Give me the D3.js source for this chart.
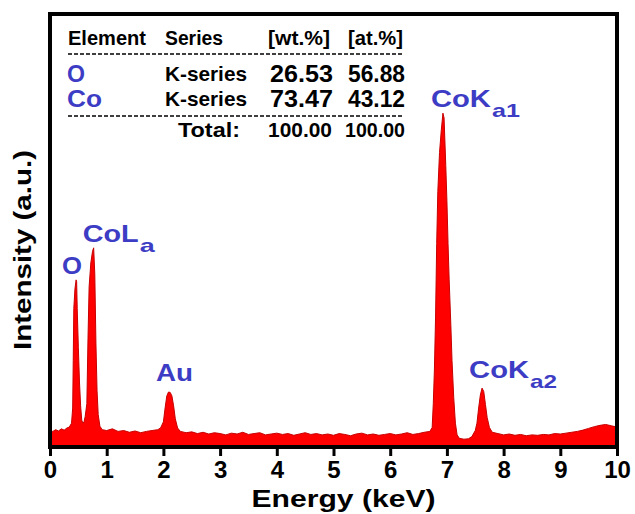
<!DOCTYPE html>
<html><head><meta charset="utf-8">
<script src="https://cdn.jsdelivr.net/npm/d3@7"></script>
<style>
html,body{margin:0;padding:0;background:#fff;}
svg{display:block;}
text{font-family:"Liberation Sans",Arial,sans-serif;font-weight:bold;}
</style></head>
<body>
<svg id="chart" width="635" height="514"></svg>
<script>
// ---- data ----
const energy = [0.00,0.05,0.10,0.15,0.20,0.25,0.30,0.34,0.38,0.40,0.41,0.42,0.44,0.46,0.47,0.48,0.50,0.52,0.54,0.56,0.58,0.60,0.62,0.65,0.67,0.69,0.72,0.75,0.77,0.79,0.81,0.83,0.85,0.88,0.92,1.00,
1.1,1.2,1.3,1.4,1.5,1.6,1.7,1.8,1.9,1.95,2.00,2.03,2.06,2.09,2.12,2.15,2.18,2.21,2.25,2.30,
2.4,2.5,2.6,2.7,2.8,2.9,3.0,3.1,3.2,3.3,3.4,3.5,3.6,3.7,3.8,3.9,4.0,4.1,4.2,4.3,4.4,4.5,4.6,4.7,4.8,4.9,5.0,5.1,5.2,5.3,5.4,5.5,5.6,5.7,5.8,5.9,6.0,6.1,6.2,6.3,6.4,6.5,6.6,
6.70,6.74,6.76,6.78,6.80,6.82,6.84,6.87,6.90,6.93,6.95,6.98,7.00,7.02,7.04,7.07,7.09,7.12,7.15,7.18,7.22,7.30,7.38,7.44,
7.50,7.53,7.56,7.59,7.62,7.65,7.68,7.71,7.75,7.80,7.9,8.0,8.1,8.2,8.3,8.4,8.5,8.6,8.7,8.8,8.9,9.0,9.1,9.2,9.3,9.4,9.5,9.6,9.7,9.8,9.9,10.0];
const intensity = [38,36,40,37,42,39,44,46,55,90,200,320,365,386,382,320,230,150,95,62,55,58,70,100,250,370,425,452,460,400,240,130,75,48,40,38,
42,36,38,34,37,33,36,38,40,44,58,90,118,127,126,118,95,65,44,36,
33,35,31,34,30,33,31,28,32,30,34,29,31,33,28,30,32,29,31,27,30,33,29,31,28,30,27,31,29,26,30,32,28,30,27,29,31,28,30,33,29,31,34,
36,45,100,180,300,470,590,680,730,771,760,650,570,470,386,280,200,115,55,28,20,18,19,24,
38,55,90,120,136,128,98,68,45,34,31,28,30,27,29,26,28,27,29,28,31,30,32,34,36,39,43,47,50,52,49,46];

const xTicks = [0,1,2,3,4,5,6,7,8,9,10];

const peakNames = ["O","CoL","Au","CoK","CoK"];
const peakSubs  = ["","a","","a1","a2"];
const peakEnergy = [0.46,0.77,2.10,6.93,7.62];
const peakHeight = [386,460,127,771,136];

const tableHeader = ["Element","Series","[wt.%]","[at.%]"];
const elements = ["O","Co"];
const seriesNames = ["K-series","K-series"];
const wtPct = ["26.53","73.47"];
const atPct = ["56.88","43.12"];
const totalLabel = "Total:";
const totals = ["100.00","100.00"];

// ---- drawing ----
const svg = d3.select("#chart");
const L=50, R=617, T=14, B=447;
const x = d3.scaleLinear().domain([0,10]).range([L,R]);
const y = d3.scaleLinear().domain([0,1000]).range([B,T]);
const blue = "#3c3cc4";

const pts = energy.map((e,i)=>[e,intensity[i]]);
const area = d3.area().x(d=>x(d[0])).y0(y(0)).y1(d=>y(d[1]));
svg.append("path").datum(pts).attr("d",area)
  .attr("fill","#ff0000").attr("stroke","#c80000").attr("stroke-width",1).attr("stroke-linejoin","round");

// frame
svg.append("path")
  .attr("d",`M${L},${B}V${T}H${R}V${B}`)
  .attr("fill","none").attr("stroke","#000").attr("stroke-width",4);

// x axis
const xAxis = d3.axisBottom(x).tickValues(xTicks).tickFormat(d3.format("d")).tickSizeInner(9).tickSizeOuter(0).tickPadding(5);
const gx = svg.append("g").attr("transform",`translate(0,${B})`).call(xAxis);
gx.select(".domain").attr("stroke","#000").attr("stroke-width",4).attr("d",`M${L-2},0H${R+2}`);
gx.selectAll(".tick line").attr("stroke","#000").attr("stroke-width",3);
gx.selectAll(".tick text").attr("fill","#000").style("font-size","24px").style("font-weight","bold")
  .style("font-family","'Liberation Sans',Arial,sans-serif");

svg.append("text").attr("x",(L+R)/2+10).attr("y",507).attr("text-anchor","middle")
  .style("font-size","24px").attr("textLength",184).attr("lengthAdjust","spacingAndGlyphs").text("Energy (keV)");
svg.append("text").attr("transform","translate(31,250) rotate(-90)").attr("text-anchor","middle")
  .style("font-size","23px").attr("textLength",200).attr("lengthAdjust","spacingAndGlyphs").text("Intensity (a.u.)");

// peak labels
const mainW = [20,56,37,60,60];
const subW  = [0,15,0,28,27];
const lblDx = [-14,-11,-13,-12,-13];
const lblDy = [-6,-6,-11,-6,-10];
peakNames.forEach((n,i)=>{
  const lx = x(peakEnergy[i]) + lblDx[i];
  const ly = y(peakHeight[i]) + lblDy[i];
  svg.append("text").attr("x",lx).attr("y",ly).attr("fill",blue).style("font-size","24px")
    .attr("textLength",mainW[i]).attr("lengthAdjust","spacingAndGlyphs").text(n);
  if(peakSubs[i]){
    svg.append("text").attr("x",lx+mainW[i]+1).attr("y",ly+10).attr("fill",blue).style("font-size","19px")
      .attr("textLength",subW[i]).attr("lengthAdjust","spacingAndGlyphs").text(peakSubs[i]);
  }
});

// table
function t(str,xp,yp,size,w,col){
  svg.append("text").attr("x",xp).attr("y",yp).attr("fill",col||"#000").style("font-size",size+"px")
    .attr("textLength",w).attr("lengthAdjust","spacingAndGlyphs").text(str);
}
const colX = [68,165,268,348];
const hdrW = [78,58,62,55];
tableHeader.forEach((h,i)=>t(h,colX[i],45,20,hdrW[i]));
svg.append("line").attr("x1",68).attr("x2",403).attr("y1",54).attr("y2",54)
  .attr("stroke","#000").attr("stroke-width",1.5).attr("stroke-dasharray","4,2");
const rowY = [82,107];
const elW = [18,35];
elements.forEach((e,i)=>{
  t(e,67,rowY[i],24,elW[i],blue);
  t(seriesNames[i],165,rowY[i]-1,21,82);
  t(wtPct[i],270,rowY[i],23,63);
  t(atPct[i],348,rowY[i],23,57);
});
svg.append("line").attr("x1",68).attr("x2",403).attr("y1",116).attr("y2",116)
  .attr("stroke","#000").attr("stroke-width",1.5).attr("stroke-dasharray","4,2");
t(totalLabel,178,137,20,62);
t(totals[0],268,137,20,64);
t(totals[1],345,137,20,60);
</script>
</body></html>
